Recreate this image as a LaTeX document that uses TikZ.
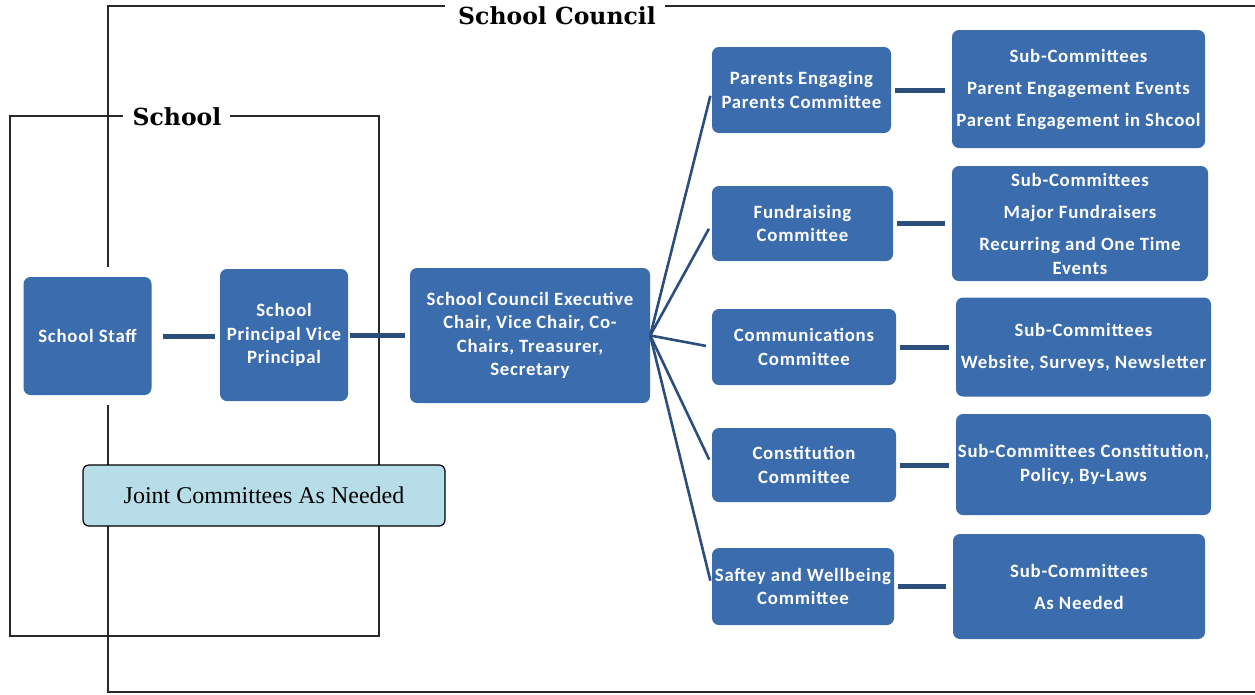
\documentclass[tikz,border=0pt]{standalone}
\usepackage{fontspec}
\setmainfont{Liberation Serif}
\newfontfamily\boxfont[LetterSpace=4]{Carlito}
\newfontfamily\titlefont{DejaVu Serif}
\usetikzlibrary{calc}
\definecolor{boxblue}{RGB}{58,108,174}
\definecolor{linkblue}{RGB}{44,78,124}
\definecolor{framegray}{RGB}{40,40,40}
\definecolor{jointfill}{RGB}{183,221,232}
\tikzset{
  orgbox/.style={rectangle, rounded corners=7pt, fill=boxblue, text=white,
    inner sep=0pt, align=center,
    font=\boxfont\bfseries\fontsize{18.8}{23.5}\selectfont},
  widebox/.style={orgbox, font=\boxfont\bfseries\fontsize{18.8}{32}\selectfont},
  frameline/.style={draw=framegray, line width=1.4pt},
  frametitle/.style={font=\titlefont\bfseries\fontsize{23.5}{26}\selectfont, inner sep=0pt},
  link/.style={draw=linkblue, line width=5pt},
  fan/.style={draw=linkblue, line width=2.6pt, shorten >=6pt},
  jointbox/.style={rectangle, rounded corners=6pt, draw=black, line width=1.2pt,
    fill=jointfill, inner sep=0pt, font=\fontsize{24}{26}\selectfont},
}
\begin{document}
\begin{tikzpicture}[x=1pt, y=-1pt]
\useasboundingbox (0,0) rectangle (1255,694);
\fill[white] (0,0) rectangle (1255,694);

% School Council frame (open on the right)
\draw[frameline] (445,6) -- (108,6) -- (108,267);
\draw[frameline] (665,6) -- (1255,6);
\draw[frameline] (108,405) -- (108,692) -- (1255,692);
\node[frametitle] (counciltitle) at (557,16) {School Council};

% School frame
\draw[frameline] (123,116) -- (10,116) -- (10,636) -- (379,636) -- (379,116) -- (230,116);
\node[frametitle] (schooltitle) at (177,117) {School};

% Boxes
\node[orgbox, minimum width=128pt, minimum height=118pt] (staff) at (87.5,336) {School Staff};
\node[orgbox, minimum width=128pt, minimum height=132pt] (principal) at (284,335) {School\\Principal Vice\\Principal};
\node[orgbox, minimum width=240pt, minimum height=135pt] (exec) at (530,335.5) {School Council Executive\\Chair, Vice Chair, Co-\\Chairs, Treasurer,\\Secretary};

\node[orgbox, minimum width=179pt, minimum height=86pt] (pe) at (801.5,90) {Parents Engaging\\Parents Committee};
\node[orgbox, minimum width=181pt, minimum height=75pt] (fr) at (802.5,223.5) {Fundraising\\Committee};
\node[orgbox, minimum width=184pt, minimum height=76pt] (cm) at (804,347) {Communications\\Committee};
\node[orgbox, minimum width=184pt, minimum height=74pt] (cn) at (804,465) {Constitution\\Committee};
\node[orgbox, minimum width=182pt, minimum height=77pt] (sw) at (803,586.5) {Saftey and Wellbeing\\Committee};

\node[widebox, minimum width=253pt, minimum height=118pt] (sc1) at (1078.5,89) {Sub-Committees\\Parent Engagement Events\\Parent Engagement in Shcool};
\node[widebox, minimum width=256pt, minimum height=115pt] (sc2) at (1080,223.5) {Sub-Committees\\Major Fundraisers\\Recurring and One Time\\[-8pt]Events};
\node[widebox, minimum width=255pt, minimum height=99pt] (sc3) at (1083.5,347) {Sub-Committees\\Website, Surveys, Newsletter};
\node[orgbox, minimum width=255pt, minimum height=101pt] (sc4) at (1083.5,464.5) {Sub-Committees Constitution,\\Policy, By-Laws};
\node[widebox, minimum width=252pt, minimum height=105pt] (sc5) at (1079,586.5) {Sub-Committees\\As Needed};

\node[jointbox, minimum width=362pt, minimum height=61pt] (joint) at (264,495.5) {Joint Committees As Needed};

% Connectors
\draw[link, shorten <=11pt, shorten >=5pt] (staff.east) -- (staff.east -| principal.west);
\draw[link, shorten <=2pt, shorten >=5pt] (principal.east) -- (principal.east -| exec.west);

\foreach \c in {pe,fr,cm,cn,sw} {
  \draw[fan] (exec.east) -- (\c.west);
}

\draw[link, shorten <=4pt, shorten >=7pt] (pe.east) -- (pe.east -| sc1.west);
\draw[link, shorten <=4pt, shorten >=7pt] (fr.east) -- (fr.east -| sc2.west);
\draw[link, shorten <=4pt, shorten >=7pt] (cm.east) -- (cm.east -| sc3.west);
\draw[link, shorten <=4pt, shorten >=7pt] (cn.east) -- (cn.east -| sc4.west);
\draw[link, shorten <=4pt, shorten >=7pt] (sw.east) -- (sw.east -| sc5.west);
\end{tikzpicture}
\end{document}
